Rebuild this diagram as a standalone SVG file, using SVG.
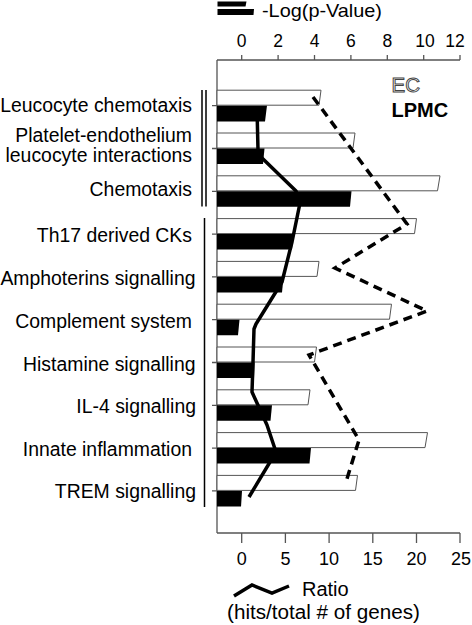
<svg xmlns="http://www.w3.org/2000/svg" width="472" height="625" viewBox="0 0 472 625">
<style>
text{font-family:"Liberation Sans",Arial,Helvetica,sans-serif;fill:#000}
.lbl{font-size:19.4px;text-anchor:end}
.tk{font-size:17.5px;text-anchor:middle}
.ax{stroke:#555;stroke-width:1.3;fill:none}
.wb{fill:#fff;stroke:#555;stroke-width:1}
.bb{fill:#000;stroke:none}
.grp{stroke:#000;stroke-width:1.5;fill:none}
</style>
<rect width="472" height="625" fill="#fff"/>
<g id="legend-top">
<polygon points="217.5,1.5 246.5,1.5 245.5,6.5 217.5,6.5" fill="#000"/>
<polygon points="217.5,9 254,9 253.5,15 217.5,15" fill="#000"/>
<text x="262" y="17" style="font-size:18.5px" textLength="120" lengthAdjust="spacingAndGlyphs">-Log(p-Value)</text>
</g>
<g id="axis-top">
<path class="ax" d="M217,60H460M241.7,60v-5M278.1,60v-5M314.5,60v-5M350.9,60v-5M387.3,60v-5M423.7,60v-5M460,60v-5"/>
<text class="tk" x="241.7" y="47">0</text>
<text class="tk" x="278.1" y="47">2</text>
<text class="tk" x="314.5" y="47">4</text>
<text class="tk" x="350.9" y="47">6</text>
<text class="tk" x="387.3" y="47">8</text>
<text class="tk" x="425" y="47">10</text>
<text class="tk" x="455" y="47">12</text>
</g>
<g id="axis-left">
<path class="ax" d="M217,60V533M212,105.7h5M212,148.5h5M212,191.3h5M212,234.1h5M212,276.9h5M212,319.7h5M212,362.5h5M212,405.3h5M212,448.1h5M212,490.9h5"/>
</g>
<g id="axis-bottom">
<path class="ax" d="M217,533H460M241.7,533v10M285.4,533v10M329.1,533v10M372.8,533v10M416.5,533v10M460,533v10"/>
<text class="tk" x="241.7" y="565" style="font-size:18px">0</text>
<text class="tk" x="285.4" y="565" style="font-size:18px">5</text>
<text class="tk" x="329.1" y="565" style="font-size:18px">10</text>
<text class="tk" x="372.8" y="565" style="font-size:18px">15</text>
<text class="tk" x="416.5" y="565" style="font-size:18px">20</text>
<text class="tk" x="461" y="565" style="font-size:18px">25</text>
</g>
<g id="group-brackets">
<path class="grp" d="M202,90V206.5M206,90V206.5"/>
<path class="grp" d="M204.5,218V507"/>
</g>
<g id="row1">
<text class="lbl" x="192" y="111.5">Leucocyte chemotaxis</text>
<polygon class="wb" points="217,90.2 321,90.2 319,105.2 217,105.2"/>
<polygon class="bb" points="217,105.7 267,105.7 265,121.5 217,121.5"/>
</g>
<g id="row2">
<text class="lbl" x="192" y="141.5">Platelet-endothelium</text>
<text class="lbl" x="192" y="162">leucocyte interactions</text>
<polygon class="wb" points="217,133 355,133 353,148 217,148"/>
<polygon class="bb" points="217,148.5 264.5,148.5 263,164 217,164"/>
</g>
<g id="row3">
<text class="lbl" x="192" y="195.5">Chemotaxis</text>
<polygon class="wb" points="217,175.8 440,175.8 437.5,190.8 217,190.8"/>
<polygon class="bb" points="217,191.3 351.5,191.3 350,206.8 217,206.8"/>
</g>
<g id="row4">
<text class="lbl" x="192" y="242">Th17 derived CKs</text>
<polygon class="wb" points="217,218.6 416.5,218.6 414.5,233.6 217,233.6"/>
<polygon class="bb" points="217,234.1 293.5,234.1 292,249.6 217,249.6"/>
</g>
<g id="row5">
<text class="lbl" x="195.5" y="285">Amphoterins signalling</text>
<polygon class="wb" points="217,261.4 319,261.4 317,276.4 217,276.4"/>
<polygon class="bb" points="217,276.9 283.5,276.9 282,292.4 217,292.4"/>
</g>
<g id="row6">
<text class="lbl" x="192" y="328">Complement system</text>
<polygon class="wb" points="217,304.2 391.5,304.2 389.5,319.2 217,319.2"/>
<polygon class="bb" points="217,319.7 239.5,319.7 238,335.2 217,335.2"/>
</g>
<g id="row7">
<text class="lbl" x="195.5" y="370.5">Histamine signalling</text>
<polygon class="wb" points="217,347 316.5,347 314.5,362 217,362"/>
<polygon class="bb" points="217,362.5 254.5,362.5 254,378 217,378"/>
</g>
<g id="row8">
<text class="lbl" x="196" y="413.3">IL-4 signalling</text>
<polygon class="wb" points="217,389.8 310,389.8 308,404.8 217,404.8"/>
<polygon class="bb" points="217,405.3 272,405.3 270.5,420.8 217,420.8"/>
</g>
<g id="row9">
<text class="lbl" x="192" y="455.5">Innate inflammation</text>
<polygon class="wb" points="217,432.6 427.5,432.6 425,447.6 217,447.6"/>
<polygon class="bb" points="217,448.1 311,448.1 309.5,463.6 217,463.6"/>
</g>
<g id="row10">
<text class="lbl" x="196" y="498">TREM signalling</text>
<polygon class="wb" points="217,475.4 357.5,475.4 355.5,490.4 217,490.4"/>
<polygon class="bb" points="217,490.9 242,490.9 241,506.4 217,506.4"/>
</g>
<g id="connectors">
<polyline fill="none" stroke="#000" stroke-width="3.5" stroke-linejoin="round" points="257,108 258,150 262,158 296,191 300,203 292,242 282,282 256,324 254,329 253,362 252,392 257,403 267,425 276,452 249,497"/>
<polyline fill="none" stroke="#000" stroke-width="3.5" stroke-dasharray="9 6" stroke-linejoin="miter" points="313,97 407,224 335,268 427,311 309,355 359,440 346,482"/>
</g>
<g id="legend-series">
<text x="391.5" y="92" style="font-size:20.5px;fill:#fff;stroke:#444;stroke-width:1">EC</text>
<text x="391.5" y="116.5" style="font-size:20px;font-weight:bold">LPMC</text>
</g>
<g id="legend-bottom">
<polyline fill="none" stroke="#000" stroke-width="3.5" points="234,596 252,585 272,593 289,586"/>
<text x="302" y="595.5" style="font-size:20px">Ratio</text>
<text x="227" y="619" style="font-size:20px" textLength="193" lengthAdjust="spacingAndGlyphs">(hits/total # of genes)</text>
</g>
</svg>
